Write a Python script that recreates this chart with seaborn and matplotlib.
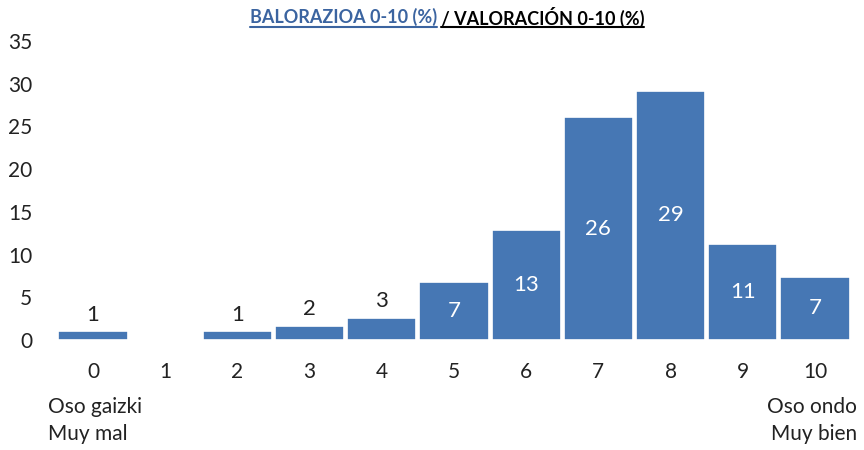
import matplotlib
matplotlib.use('Agg')
import matplotlib.pyplot as plt
import seaborn as sns
from matplotlib.lines import Line2D

# scores 0-10 and share of answers (%)
scores = ['0', '1', '2', '3', '4', '5', '6', '7', '8', '9', '10']
values = [1.0, 0.0, 1.0, 1.6, 2.6, 6.8, 12.9, 26.1, 29.2, 11.2, 7.4]
labels = ['1', '', '1', '2', '3', '7', '13', '26', '29', '11', '7']
big_bars = [False, False, False, False, False, True, True, True, True, True, True]

title_eu = 'BALORAZIOA 0-10 (%)'
title_es = ' / VALORACIÓN 0-10 (%)'

bar_color = '#4677B4'
title_blue = '#3B64A0'

sns.set_style('white')
plt.rcParams['font.family'] = ['Lato', 'DejaVu Sans']

fig = plt.figure(figsize=(8.64, 4.5), dpi=100)
ax = fig.add_axes([0.066, 0.2444, 0.919, 0.6644])

sns.barplot(x=scores, y=values, order=scores, color=bar_color, saturation=1,
            width=0.96, edgecolor='white', linewidth=1.2, ax=ax)

ax.set_xlim(-0.5, 10.5)
ax.set_ylim(0, 35)
ax.set_yticks(range(0, 36, 5))
ax.set_xlabel('')
ax.set_ylabel('')
sns.despine(ax=ax, left=True, bottom=True)
ax.tick_params(axis='both', length=0, labelsize=15, colors='#222222')
ax.tick_params(axis='x', pad=16)
ax.tick_params(axis='y', pad=18)

# data labels: white inside big bars, dark above small ones
inner = [l if b else '' for l, b in zip(labels, big_bars)]
outer = [l if not b else '' for l, b in zip(labels, big_bars)]
ax.bar_label(ax.containers[0], labels=inner, label_type='center',
             color='white', fontsize=16)
ax.bar_label(ax.containers[0], labels=outer, label_type='edge',
             color='#222222', fontsize=16, padding=5)

# extreme descriptions under the axis
fig.text(0.055, 0.095, 'Oso gaizki', fontsize=15, ha='left', va='center', color='#222222')
fig.text(0.055, 0.035, 'Muy mal', fontsize=15, ha='left', va='center', color='#222222')
fig.text(0.992, 0.095, 'Oso ondo', fontsize=15, ha='right', va='center', color='#222222')
fig.text(0.992, 0.035, 'Muy bien', fontsize=15, ha='right', va='center', color='#222222')

# two-colour underlined title
t1 = fig.text(0.289, 0.962, title_eu, fontsize=13, fontweight='bold',
              color=title_blue, ha='left', va='center')
fig.canvas.draw()
r = fig.canvas.get_renderer()
bb1 = t1.get_window_extent(r)
t2 = fig.text(bb1.x1 / fig.bbox.width, 0.962, title_es, fontsize=13,
              fontweight='bold', color='black', ha='left', va='center')
fig.canvas.draw()
bb2 = t2.get_window_extent(r)
W, H = fig.bbox.width, fig.bbox.height
uy = (bb1.y0 - 1) / H
fig.add_artist(Line2D([bb1.x0 / W, bb1.x1 / W], [uy, uy], color=title_blue, lw=1.5))
fig.add_artist(Line2D([(bb2.x0 + 4) / W, bb2.x1 / W], [uy, uy], color='black', lw=1.5))

fig.savefig('out.png', dpi=100)
